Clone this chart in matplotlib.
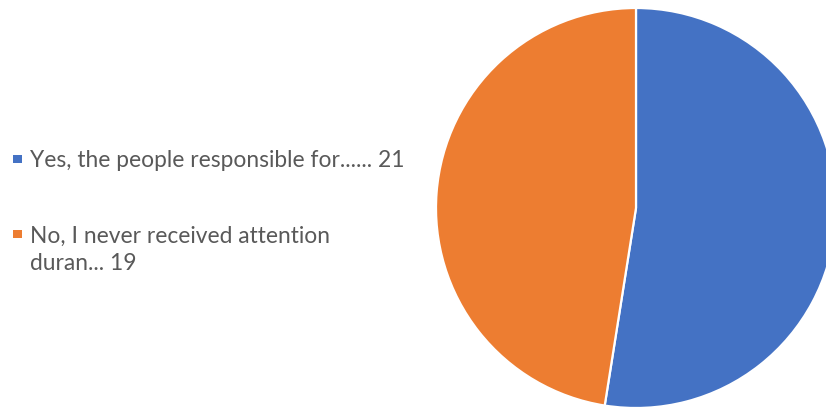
import matplotlib
matplotlib.use("Agg")
import matplotlib.pyplot as plt
from matplotlib.patches import Rectangle

categories = ["Yes, the people responsible for......",
              "No, I never received attention\nduran..."]
values = [21, 19]
colors = ["#4472C4", "#ED7D31"]
text_color = "#595959"

W, H = 826, 407
fig = plt.figure(figsize=(W / 100, H / 100), dpi=100)

# Pie axes: centre (636, 208) px, radius 200 px
cx, cy, r = 636, 208, 200
ax = fig.add_axes([(cx - r) / W, (H - cy - r) / H, 2 * r / W, 2 * r / H])
ax.pie(values, colors=colors, startangle=90, counterclock=False, radius=1,
       wedgeprops=dict(edgecolor="white", linewidth=1.6))
ax.set_xlim(-1, 1)
ax.set_ylim(-1, 1)
ax.set_aspect("equal")
ax.axis("off")

# Legend entries drawn as figure text with coloured squares
font = dict(family=["Lato", "DejaVu Sans"], size=16.4, color=text_color)
first_baselines = [167, 242]
last_baselines = [167, 270]
for label, val, col, yb, yl in zip(categories, values, colors,
                                   first_baselines, last_baselines):
    fig.add_artist(Rectangle((13 / W, 1 - (yb - 4) / H), 9 / W, 8 / H,
                             transform=fig.transFigure, color=col, lw=0))
    fig.text(30 / W, 1 - yl / H, f"{label} {val}", va="baseline", ha="left",
             linespacing=1.36, transform=fig.transFigure, **font)

fig.savefig("out.png", dpi=100)
